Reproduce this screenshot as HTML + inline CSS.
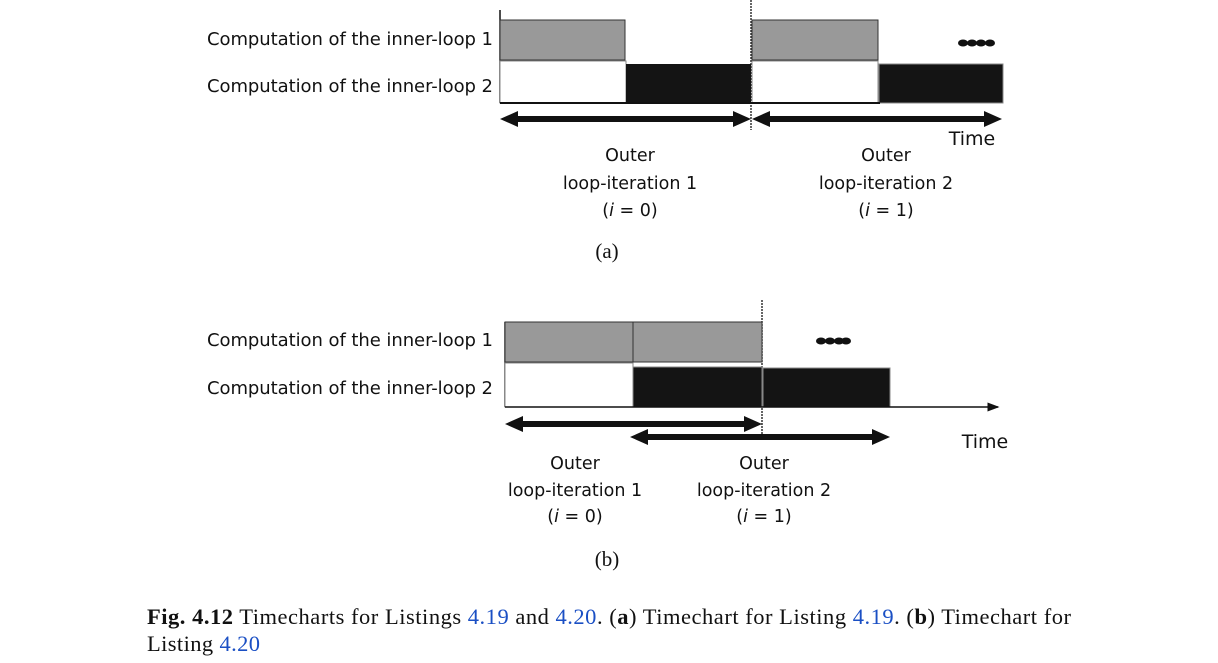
<!DOCTYPE html>
<html><head><meta charset="utf-8"><style>
body{margin:0;background:#fff;width:1218px;height:663px;overflow:hidden}
svg{position:absolute;left:0;top:0}
.s{font-family:"DejaVu Sans","Liberation Sans",sans-serif;font-size:17.5px;fill:#111}
.l{font-family:"DejaVu Sans","Liberation Sans",sans-serif;font-size:18px;fill:#111}
.r{font-family:"Liberation Serif",serif;font-size:21px;fill:#111}
.cap{font-family:"Liberation Serif",serif;font-size:22.5px;fill:#111}
.b{fill:#1a4fc4}
</style></head><body>
<svg width="1218" height="663">
<defs>
<marker id="ah" markerWidth="8" markerHeight="8" refX="7" refY="4" orient="auto"><path d="M0,1 L8,4 L0,7Z" fill="#111"/></marker>
</defs>
<g>
<text class="l" x="493" y="45" text-anchor="end" textLength="286">Computation of the inner-loop 1</text>
<text class="l" x="493" y="92" text-anchor="end" textLength="286">Computation of the inner-loop 2</text>
<line x1="500" y1="10" x2="500" y2="103" stroke="#111" stroke-width="1.5"/>
<line x1="751" y1="0" x2="751" y2="130" stroke="#333" stroke-width="1.5" stroke-dasharray="2,1"/>
<rect x="500" y="20" width="125" height="40" fill="#999" stroke="#333"/>
<rect x="500" y="61" width="126" height="42" fill="#fff" stroke="#888"/>
<rect x="626" y="64" width="125" height="39" fill="#141414"/>
<rect x="752" y="20" width="126" height="40" fill="#999" stroke="#333"/>
<rect x="752" y="61" width="126" height="42" fill="#fff" stroke="#888"/>
<rect x="879" y="64" width="124" height="39" fill="#141414" stroke="#888"/>
<line x1="500" y1="103" x2="880" y2="103" stroke="#111" stroke-width="2"/>
<g fill="#111"><ellipse cx="963" cy="43" rx="5" ry="3.5"/><ellipse cx="972" cy="43" rx="5" ry="3.5"/><ellipse cx="981" cy="43" rx="5" ry="3.5"/><ellipse cx="990" cy="43" rx="5" ry="3.5"/></g>
<path d="M500,119 L518,111 L518,116 L733,116 L733,111 L751,119 L733,127 L733,122 L518,122 L518,127Z" fill="#111"/>
<path d="M752,119 L770,111 L770,116 L984,116 L984,111 L1002,119 L984,127 L984,122 L770,122 L770,127Z" fill="#111"/>
<text class="s" x="972" y="145" text-anchor="middle" style="font-size:19px">Time</text>
<text class="s" x="630" y="161" text-anchor="middle">Outer</text>
<text class="s" x="630" y="189" text-anchor="middle">loop-iteration 1</text>
<text class="s" x="630" y="216" text-anchor="middle">(<tspan font-style="italic">i</tspan> = 0)</text>
<text class="s" x="886" y="161" text-anchor="middle">Outer</text>
<text class="s" x="886" y="189" text-anchor="middle">loop-iteration 2</text>
<text class="s" x="886" y="216" text-anchor="middle">(<tspan font-style="italic">i</tspan> = 1)</text>
<text class="r" x="607" y="258" text-anchor="middle">(a)</text>
</g>
<g>
<text class="l" x="493" y="346" text-anchor="end" textLength="286">Computation of the inner-loop 1</text>
<text class="l" x="493" y="394" text-anchor="end" textLength="286">Computation of the inner-loop 2</text>
<line x1="505" y1="322" x2="505" y2="407" stroke="#111" stroke-width="1.5"/>
<line x1="762" y1="300" x2="762" y2="437" stroke="#333" stroke-width="1.5" stroke-dasharray="2,1"/>
<rect x="505" y="322" width="128" height="40" fill="#999" stroke="#333"/>
<rect x="633" y="322" width="129" height="40" fill="#999" stroke="#333"/>
<rect x="505" y="363" width="128" height="44" fill="#fff" stroke="#888"/>
<rect x="633" y="367" width="129" height="40" fill="#141414" stroke="#888"/>
<rect x="763" y="368" width="127" height="39" fill="#141414" stroke="#888"/>
<line x1="505" y1="407" x2="998" y2="407" stroke="#111" stroke-width="1.5" marker-end="url(#ah)"/>
<g fill="#111"><ellipse cx="821" cy="341" rx="5" ry="3.5"/><ellipse cx="830" cy="341" rx="5" ry="3.5"/><ellipse cx="839" cy="341" rx="5" ry="3.5"/><ellipse cx="846" cy="341" rx="5" ry="3.5"/></g>
<path d="M505,424 L523,416 L523,421 L744,421 L744,416 L762,424 L744,432 L744,427 L523,427 L523,432Z" fill="#111"/>
<path d="M630,437 L648,429 L648,434 L872,434 L872,429 L890,437 L872,445 L872,440 L648,440 L648,445Z" fill="#111"/>
<text class="s" x="985" y="448" text-anchor="middle" style="font-size:19px">Time</text>
<text class="s" x="575" y="469" text-anchor="middle">Outer</text>
<text class="s" x="575" y="496" text-anchor="middle">loop-iteration 1</text>
<text class="s" x="575" y="522" text-anchor="middle">(<tspan font-style="italic">i</tspan> = 0)</text>
<text class="s" x="764" y="469" text-anchor="middle">Outer</text>
<text class="s" x="764" y="496" text-anchor="middle">loop-iteration 2</text>
<text class="s" x="764" y="522" text-anchor="middle">(<tspan font-style="italic">i</tspan> = 1)</text>
<text class="r" x="607" y="566" text-anchor="middle">(b)</text>
</g>
<g>
<text class="cap" x="147" y="624" textLength="924"><tspan font-weight="bold">Fig. 4.12</tspan>   Timecharts for Listings <tspan class="b">4.19</tspan> and <tspan class="b">4.20</tspan>. (<tspan font-weight="bold">a</tspan>) Timechart for Listing <tspan class="b">4.19</tspan>. (<tspan font-weight="bold">b</tspan>) Timechart for</text>
<text class="cap" x="147" y="651" textLength="113">Listing <tspan class="b">4.20</tspan></text>
</g>
</svg>
</body></html>
